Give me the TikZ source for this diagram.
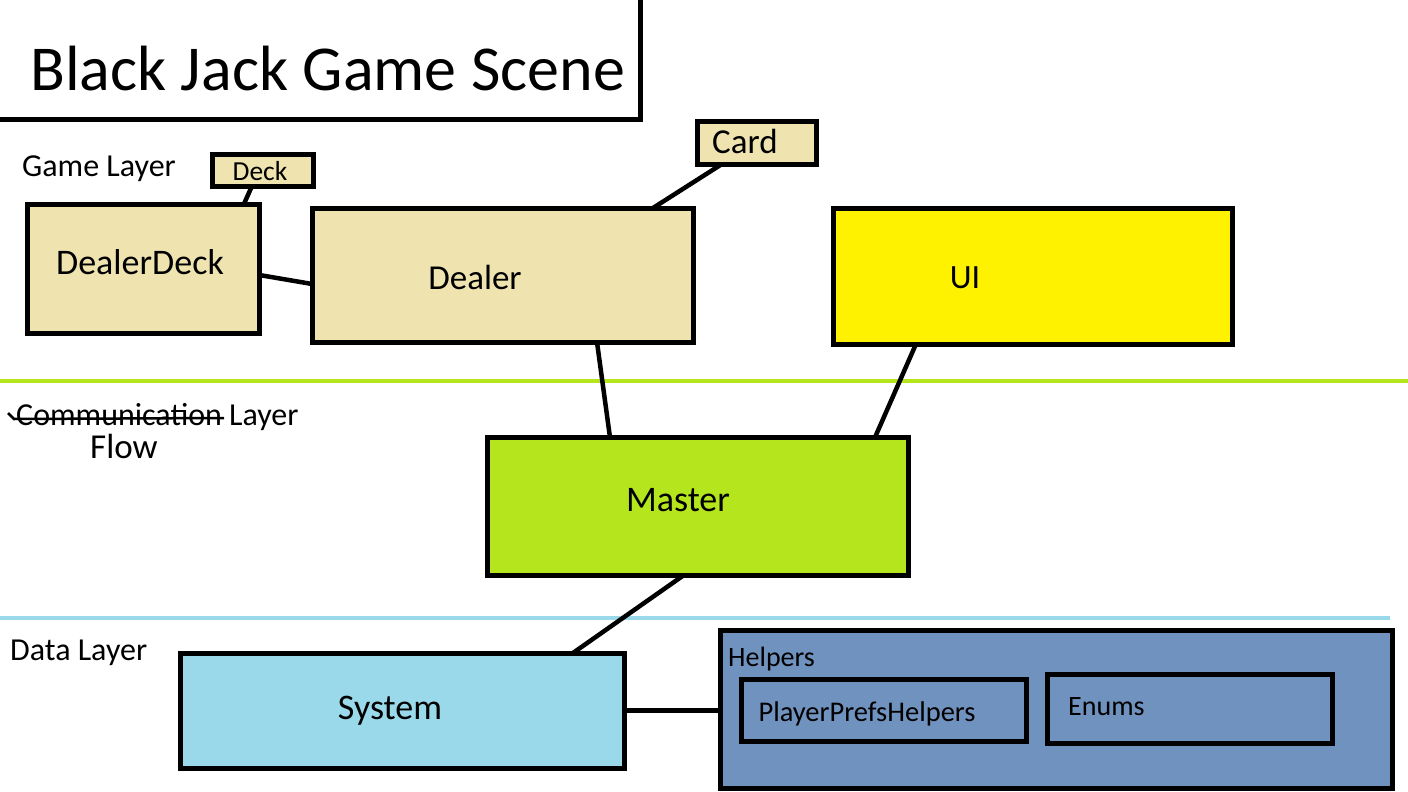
\documentclass[tikz,border=0pt]{standalone}
\usepackage{fontspec}
\setmainfont{Carlito}
\usetikzlibrary{calc}
\definecolor{cTan}{HTML}{EFE4B0}
\definecolor{cYellow}{HTML}{FFF200}
\definecolor{cGreen}{HTML}{B5E61D}
\definecolor{cLBlue}{HTML}{99D9EA}
\definecolor{cSteel}{HTML}{7092BE}
\newcommand{\fs}[1]{\fontsize{#1}{#1}\selectfont}
\begin{document}
\begin{tikzpicture}[x=1pt,y=-1pt,
  box/.style={draw=black, line width=5pt, inner sep=0pt, outer sep=0pt, anchor=north west},
  conn/.style={line width=4.5pt},
  lbl/.style={anchor=base, inner sep=0pt},
  lblw/.style={anchor=base west, inner sep=0pt}]
\useasboundingbox[fill=white] (0,0) rectangle (1408,792);
% layer separators
\draw[cGreen, line width=4.5pt] (0,381) -- (1408,381);
\draw[cLBlue, line width=4.5pt] (0,618) -- (1390,618);
% boxes
\node[box, fill=white, minimum width=650pt, minimum height=129pt] (title) at (-10,-10) {};
\node[box, fill=cTan, minimum width=101pt, minimum height=32pt] (deck) at (212,154) {};
\node[box, fill=cTan, minimum width=232pt, minimum height=129pt] (dealerdeck) at (27,204) {};
\node[box, fill=cTan, minimum width=381pt, minimum height=134pt] (dealer) at (312,208) {};
\node[box, fill=cTan, minimum width=119pt, minimum height=43pt] (card) at (697,121) {};
\node[box, fill=cYellow, minimum width=399pt, minimum height=136pt] (ui) at (833,208) {};
\node[box, fill=cGreen, minimum width=421pt, minimum height=138pt] (master) at (487,437) {};
\node[box, fill=cLBlue, minimum width=444pt, minimum height=115pt] (system) at (180,653) {};
\node[box, fill=cSteel, minimum width=672pt, minimum height=158pt] (helpers) at (720,630) {};
\node[box, fill=cSteel, minimum width=285pt, minimum height=62pt] (pph) at (741,679) {};
\node[box, fill=cSteel, minimum width=285pt, minimum height=69pt] (enums) at (1047,674) {};
% texts
\node[lblw] (titletext) at (30,90) {\fs{64}Black Jack Game Scene};
\node[lblw] (gamelayer) at (22,176) {\fs{32}Game Layer};
\node[lbl] (decktext) at (260,180) {\fs{27.5}Deck};
\node[lbl] (ddtext) at (140,274) {\fs{36}DealerDeck};
\node[lbl] (dealertext) at (475,289) {\fs{35}Dealer};
\node[lbl] (cardtext) at (745,153) {\fs{35}Card};
\node[lbl] (uitext) at (965,288) {\fs{34}UI};
\node[lblw] (commtext) at (16,425) {\fs{32}Communication Layer};
\node[lblw] (flowtext) at (90,458) {\fs{35}Flow};
\node[lbl] (mastertext) at (678,511) {\fs{36}Master};
\node[lblw] (datalayer) at (10,660) {\fs{32}Data Layer};
\node[lbl] (systemtext) at (390,719) {\fs{36}System};
\node[lblw] (helperstext) at (728,666) {\fs{28}Helpers};
\node[lbl] (pphtext) at (867,721) {\fs{28.5}PlayerPrefsHelpers};
\node[lblw] (enumstext) at (1068,715) {\fs{28}Enums};
% strike-through
\draw[line width=2.5pt] (8,413) -- (14,419) -- (224,418);
% connectors
\draw[conn] ($(deck.south west)!0.396!(deck.south east)$) -- ($(dealerdeck.north west)!0.935!(dealerdeck.north east)$);
\draw[conn] ($(dealerdeck.north east)!0.55!(dealerdeck.south east)$) -- ($(dealer.north west)!0.567!(dealer.south west)$);
\draw[conn] ($(card.south west)!0.21!(card.south east)$) -- ($(dealer.north west)!0.895!(dealer.north east)$);
\draw[conn] ($(dealer.south west)!0.748!(dealer.south east)$) -- ($(master.north west)!0.292!(master.north east)$);
\draw[conn] ($(ui.south west)!0.208!(ui.south east)$) -- ($(master.north west)!0.922!(master.north east)$);
\draw[conn] ($(master.south west)!0.468!(master.south east)$) -- ($(system.north west)!0.885!(system.north east)$);
\draw[conn] (system.east) -- (system.east -| helpers.west);
\end{tikzpicture}
\end{document}
